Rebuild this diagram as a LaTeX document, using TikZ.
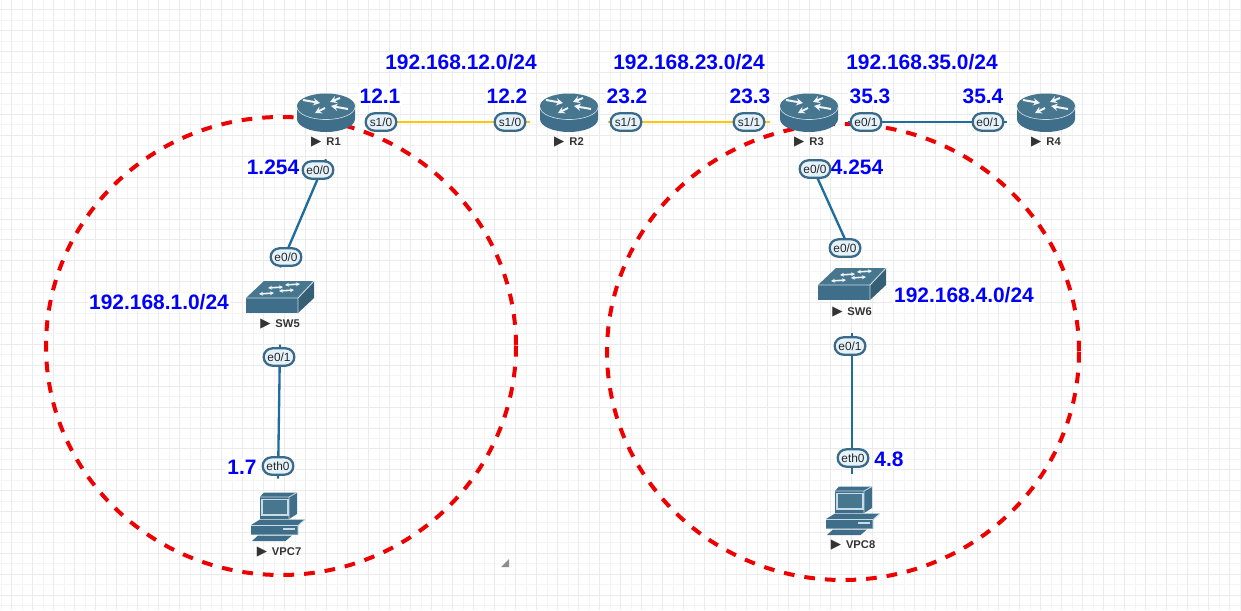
\documentclass[tikz,border=0pt]{standalone}
\usepackage{fontspec}
\setmainfont{Liberation Sans}
\newfontfamily\symfont{DejaVu Sans}
\usetikzlibrary{arrows.meta}
\definecolor{icon}{HTML}{3F6E8A}
\definecolor{icontop}{HTML}{47768F}
\definecolor{iconline}{HTML}{C9DCE6}
\definecolor{linkblue}{HTML}{1F6C9E}
\definecolor{linkyellow}{HTML}{FFC60A}
\definecolor{pillfill}{HTML}{E6F2FA}
\definecolor{pilledge}{HTML}{3A6A8A}
\definecolor{labelblue}{HTML}{0000FF}
\definecolor{zonered}{HTML}{EE0000}
\definecolor{gridminor}{HTML}{F4F4F4}
\definecolor{gridmajor}{HTML}{EBEBEB}
\tikzset{
  devbox/.style={inner sep=0pt,minimum width=58,minimum height=56,outer sep=0pt},
  devname/.style={font=\fontsize{8.4}{10}\selectfont\bfseries,text=black!80,inner sep=0pt},
  pill/.style={draw=pilledge,line width=1.7pt,fill=pillfill,rounded corners=6.5pt,
    minimum width=23pt,minimum height=13pt,inner sep=0pt,text=black!85,
    font=\fontsize{8.9}{10}\selectfont},
  addr/.style={font=\fontsize{15.7}{18}\selectfont\bfseries,text=labelblue,fill=white,inner sep=1pt},
  zone/.style={draw=zonered,line width=3pt,dash pattern=on 8pt off 7.5pt},
  linkb/.style={draw=linkblue,line width=1.75pt},
  linky/.style={draw=linkyellow,line width=1.75pt},
  pics/router/.style={code={
    \fill[icon] (-29,-7) -- (29,-7) -- (29,6) arc[start angle=0,end angle=180,x radius=29,y radius=13] -- cycle;
    \fill[icontop] (0,-7) ellipse[x radius=29,y radius=12.5];
    \draw[iconline,line width=.5pt] (-29,-6) arc[start angle=180,end angle=0,x radius=29,y radius=12.5];
    \foreach \a/\b/\c/\d in {-23/-13/-6/-10, 14/-15/4/-11, 22/-4/5/-7, -1/-5/-11/0}{
      \draw[white!92!icon,line width=1.5pt,-{Stealth[length=5pt,width=5.5pt]}] (\a,\b) -- (\c,\d);}
  }},
  pics/switch/.style={code={
    \fill[icontop] (-34,1) -- (-16,-16) -- (34,-16) -- (18,1) -- cycle;
    \fill[icon] (-34,1) rectangle (18,16);
    \fill[icon!85!black] (18,1) -- (34,-16) -- (34,1) -- (18,16) -- cycle;
    \draw[iconline,line width=.7pt] (-34,1) -- (18,1) -- (34,-16) (18,1) -- (18,16);
    \foreach \a/\b/\c/\d in {-12/-9/3/-10, 5/-12/20/-13, -21/-3/-6/-4, -1/-6/14/-7}{
      \draw[white!92!icon,line width=1.2pt,{Stealth[length=3pt,width=3pt]}-{Stealth[length=3pt,width=3pt]}] (\a,\b) -- (\c,\d);}
  }},
  pics/vpc/.style={code={
    \fill[icon] (-18,-20) -- (-14,-24.5) -- (19,-24.5) -- (19,-3) -- (11,2) -- (-18,2) -- cycle;
    \draw[iconline,line width=.6pt] (-18,-20) -- (11,-20) -- (19,-24.5) (11,-20) -- (11,2);
    \draw[iconline,line width=.9pt,fill=icontop] (-16,-17.5) rectangle (10,-2);
    \fill[icon] (-27,8) -- (-18,2.5) -- (27,2.5) -- (20,9) -- (20,17.5) -- (-27,17.5) -- cycle;
    \draw[iconline,line width=.6pt] (-27,8.5) -- (20,8.5) -- (27,2.5) (20,9) -- (20,17.5);
    \fill[iconline] (5,11) rectangle (17,13);
    \fill[icon] (-26,24) -- (-20,18.5) -- (14,18.5) -- (7.5,24) -- cycle;
  }}
}
\begin{document}
\begin{tikzpicture}[x=0.75pt,y=-0.75pt]
\useasboundingbox (0,0) rectangle (1241,610);
\fill[white] (0,0) rectangle (1241,610);
% grid
\foreach \k in {0,...,118}{\draw[gridminor,line width=.75pt] ({1+10.5*\k},0) -- ({1+10.5*\k},610);}
\foreach \k in {0,...,58}{\draw[gridminor,line width=.75pt] (0,{10+10.45*\k}) -- (1241,{10+10.45*\k});}
\foreach \k in {0,...,59}{\draw[gridmajor,line width=.75pt] ({11.5+21*\k},0) -- ({11.5+21*\k},610);}
\foreach \k in {0,...,29}{\draw[gridmajor,line width=.75pt] (0,{10+20.9*\k}) -- (1241,{10+20.9*\k});}
% resize grip
\fill[black!45] (501,567) -- (509,559) -- (509,567) -- cycle;
% zones
\draw[zone] (281,346) ellipse[x radius=235,y radius=229];
\draw[zone] (843,352) ellipse[x radius=236,y radius=228];
% device boxes
\node[devbox] (R1) at (326,122) {};
\node[devbox] (R2) at (569,122) {};
\node[devbox] (R3) at (809,122) {};
\node[devbox] (R4) at (1046,122) {};
\node[devbox,minimum height=58] (SW5) at (280,306) {};
\node[devbox,minimum height=59] (SW6) at (852,294) {};
\node[devbox] (VPC7) at (278,516) {};
\node[devbox] (VPC8) at (852,511) {};
% links
\draw[linky] (R1.east) -- (R2.west);
\draw[linky] (R2.east) -- (R3.west);
\draw[linkb] (R3.east) -- (R4.west);
\draw[linkb] (R1.south) -- (SW5.north);
\draw[linkb] (SW5.south) -- (VPC7.north);
\draw[linkb] (R3.south) -- (SW6.north);
\draw[linkb] (SW6.south) -- (VPC8.north);
% icons
\pic at (326,113) {router};
\pic at (569,113) {router};
\pic at (809,113) {router};
\pic at (1046,113) {router};
\pic at (280,297) {switch};
\pic at (852,284) {switch};
\pic at (278,517) {vpc};
\pic at (853,511) {vpc};
% device names
\node[devname] (nR1) at (326,142) {{\symfont\fontsize{10}{10}\selectfont ▶}\, R1};
\node[devname] (nR2) at (569,142) {{\symfont\fontsize{10}{10}\selectfont ▶}\, R2};
\node[devname] (nR3) at (809,142) {{\symfont\fontsize{10}{10}\selectfont ▶}\, R3};
\node[devname] (nR4) at (1046,142) {{\symfont\fontsize{10}{10}\selectfont ▶}\, R4};
\node[devname] (nSW5) at (280,324) {{\symfont\fontsize{10}{10}\selectfont ▶}\, SW5};
\node[devname] (nSW6) at (852,312) {{\symfont\fontsize{10}{10}\selectfont ▶}\, SW6};
\node[devname] (nVPC7) at (279,552) {{\symfont\fontsize{10}{10}\selectfont ▶}\, VPC7};
\node[devname] (nVPC8) at (853,545) {{\symfont\fontsize{10}{10}\selectfont ▶}\, VPC8};
% addresses
\node[addr] (a1) at (461,62) {192.168.12.0/24};
\node[addr] (a2) at (689,62) {192.168.23.0/24};
\node[addr] (a3) at (922,62) {192.168.35.0/24};
\node[addr] (a4) at (380,96) {12.1};
\node[addr] (a5) at (507,96) {12.2};
\node[addr] (a6) at (627,96) {23.2};
\node[addr] (a7) at (750,96) {23.3};
\node[addr] (a8) at (870,96) {35.3};
\node[addr] (a9) at (983,96) {35.4};
\node[addr] (a10) at (273,167) {1.254};
\node[addr] (a11) at (857,167) {4.254};
\node[addr] (a12) at (159,302) {192.168.1.0/24};
\node[addr] (a13) at (964,295) {192.168.4.0/24};
\node[addr] (a14) at (242,467) {1.7};
\node[addr] (a15) at (889,459) {4.8};
% interface pills
\node[pill] (p1) at (381,122) {s1/0};
\node[pill] (p2) at (510,122) {s1/0};
\node[pill] (p3) at (626,122) {s1/1};
\node[pill] (p4) at (749,122) {s1/1};
\node[pill] (p5) at (866,122) {e0/1};
\node[pill] (p6) at (988,122) {e0/1};
\node[pill] (p7) at (318,170) {e0/0};
\node[pill] (p8) at (286,257) {e0/0};
\node[pill] (p9) at (279,357) {e0/1};
\node[pill] (p10) at (278,466) {eth0};
\node[pill] (p11) at (815,169) {e0/0};
\node[pill] (p12) at (845,248) {e0/0};
\node[pill] (p13) at (850,346) {e0/1};
\node[pill] (p14) at (853,458) {eth0};
\end{tikzpicture}
\end{document}
